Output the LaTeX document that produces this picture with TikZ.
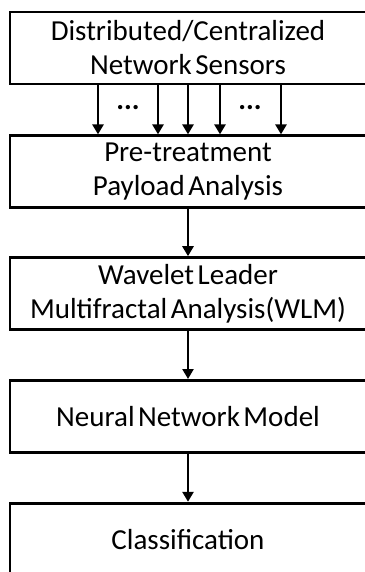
\documentclass[tikz,border=0pt]{standalone}
\usepackage{fontspec}
\setmainfont{Carlito}
\usetikzlibrary{arrows.meta, positioning}
\newcommand{\boxfont}{\fontsize{29}{34}\selectfont\spaceskip=3.5pt\relax}
\tikzset{%
    nodesty/.style={
        draw,
        line width=2.8pt,
        align=center,
        inner sep=0pt,
        minimum height=72pt,
        minimum width=356pt,
        font=\boxfont,
    },
    arrsty/.style={
        -{Triangle[width=11pt,length=10pt]},
        line width=2.8pt,
    },
    dotsty/.style={
        font=\fontsize{29}{34}\selectfont\bfseries,
    },
}
\begin{document}
\begin{tikzpicture}[]
\useasboundingbox (0pt,0pt) rectangle (364pt,-572pt);

% processing stages
\node (sensors) [nodesty] at (188pt,-48pt) {Distributed/Centralized\\Network Sensors};
\node (pretreat) [nodesty,below=49pt of sensors] {Pre-treatment\\Payload Analysis};
\node (wlm) [nodesty,below=47pt of pretreat] {Wavelet Leader\\Multifractal Analysis(WLM)};
\node (nnm) [nodesty,below=48pt of wlm] {Neural Network Model};
\node (classif) [nodesty,below=48pt of nnm] {Classification};

% sensor links
\foreach \dx in {-90,-30,0,32,93}
    \draw[arrsty] ([xshift=\dx pt]sensors.south) -- ([xshift=\dx pt]pretreat.north);
\path (sensors.south) -- (pretreat.north)
    node[dotsty,midway,xshift=-60pt,yshift=2pt] (dotsl) {...}
    node[dotsty,midway,xshift=62pt,yshift=2pt] (dotsr) {...};

\draw[arrsty] (pretreat) -- (wlm);
\draw[arrsty] (wlm) -- (nnm);
\draw[arrsty] (nnm) -- (classif);

\end{tikzpicture}
\end{document}
